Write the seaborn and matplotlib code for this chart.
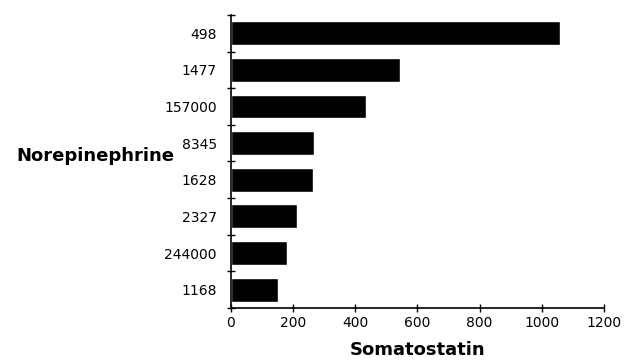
import matplotlib
matplotlib.use("Agg")
import matplotlib.pyplot as plt
import seaborn as sns
import numpy as np
import pandas as pd

# values
norepinephrine = ["498", "1477", "157000", "8345", "1628", "2327", "244000", "1168"]
somatostatin = [1057, 544, 434, 268, 263, 213, 182, 153]
x_ticks = [0, 200, 400, 600, 800, 1000, 1200]

df = pd.DataFrame({"Norepinephrine": norepinephrine, "Somatostatin": somatostatin})

sns.set_style("white")
plt.rcParams["font.family"] = ["DejaVu Sans"]
plt.rcParams["text.color"] = "black"
plt.rcParams["axes.labelcolor"] = "black"
plt.rcParams["xtick.color"] = "black"
plt.rcParams["ytick.color"] = "black"

fig = plt.figure(figsize=(6.24, 3.64), dpi=100)
ax = fig.add_axes([0.3697, 0.154, 0.5983, 0.805])

sns.barplot(data=df, y="Norepinephrine", x="Somatostatin", order=norepinephrine,
            color="black", saturation=1, width=0.65, orient="h", ax=ax)

ax.set_xlim(0, 1200)
ax.set_ylim(len(norepinephrine) - 0.5, -0.5)
ax.set_xticks(x_ticks)
ax.set_xticklabels([str(t) for t in x_ticks], fontsize=10)
ax.tick_params(axis="x", bottom=True, direction="inout", length=6, width=1, pad=3)

# labels centred on bars, small crosses at the category boundaries
ax.tick_params(axis="y", which="major", left=True, length=0, pad=10, labelsize=10)
ax.set_yticks(np.arange(-0.5, len(norepinephrine), 1.0), minor=True)
ax.tick_params(axis="y", which="minor", left=True, direction="inout", length=6, width=1)

sns.despine(ax=ax)
for side in ["left", "bottom"]:
    ax.spines[side].set_color("black")
    ax.spines[side].set_linewidth(1.2)

ax.set_xlabel("Somatostatin", fontsize=13, fontweight="bold", labelpad=8)
ax.set_ylabel("Norepinephrine", fontsize=13, fontweight="bold", rotation=0,
              ha="right", va="center")
ax.yaxis.set_label_coords(-0.15, 0.52)

fig.savefig("out.png", dpi=100, facecolor="white")
